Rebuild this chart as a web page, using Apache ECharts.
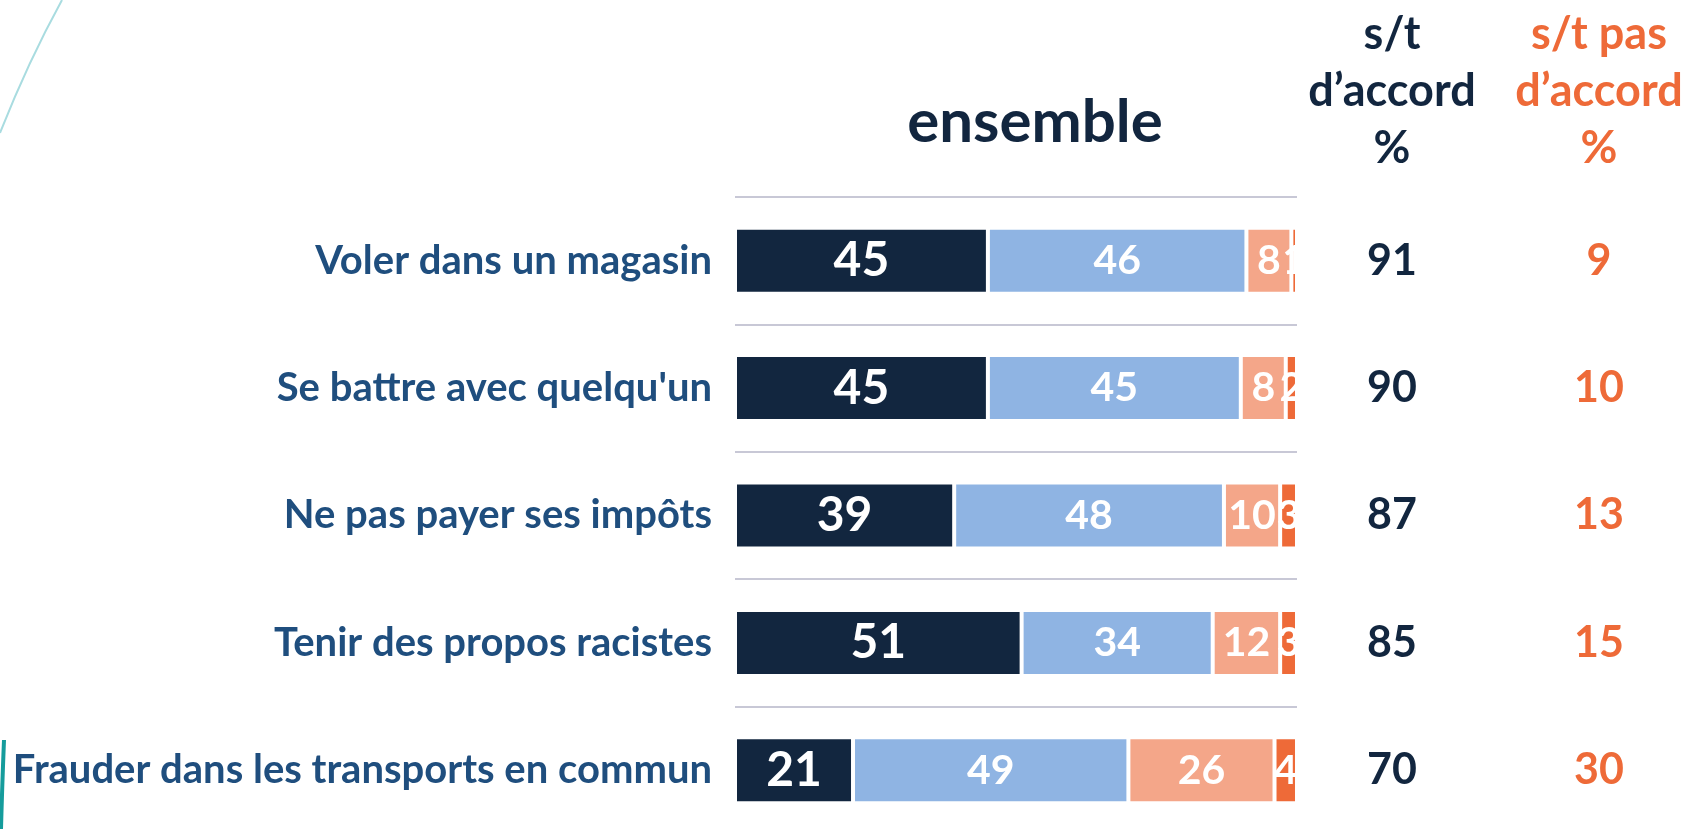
<!DOCTYPE html>
<html>
<head>
<meta charset="utf-8">
<script src="https://cdn.jsdelivr.net/npm/echarts@6/dist/echarts.min.js"></script>
<style>
  html, body { margin: 0; padding: 0; background: #fff; }
  #main { width: 1685px; height: 829px; }
</style>
</head>
<body>
<div id="main"></div>
<script>
// catégories (de haut en bas)
var categories = ['Voler dans un magasin', 'Se battre avec quelqu\'un', 'Ne pas payer ses impôts', 'Tenir des propos racistes', 'Frauder dans les transports en commun'];
// réponses en %
var tout_accord = [45, 45, 39, 51, 21];
var plutot_accord = [46, 45, 48, 34, 49];
var plutot_pas = [8, 8, 10, 12, 26];
var pas_du_tout = [1, 2, 3, 3, 4];

var navy = '#12263F';
var orange = '#EE6A38';
var font = 'Lato';

var chart = echarts.init(document.getElementById('main'));

// totaux s/t d'accord et s/t pas d'accord
var totAccord = tout_accord.map(function (v, i) { return v + plutot_accord[i]; });
var totPas = plutot_pas.map(function (v, i) { return v + pas_du_tout[i]; });

function barSerie(name, data, color, size) {
  return {
    name: name,
    type: 'bar',
    stack: 'total',
    barWidth: 66,
    data: data,
    itemStyle: { color: color, borderColor: '#fff', borderWidth: 2 },
    label: {
      show: true,
      position: 'inside',
      color: '#fff',
      fontFamily: font,
      fontWeight: 'bold',
      fontSize: size
    }
  };
}

var option = {
  animation: false,
  title: [
    {
      text: 'ensemble',
      left: 1030, top: 88, textAlign: 'center',
      textStyle: { fontFamily: font, fontWeight: 'bold', fontSize: 60, color: navy }
    },
    {
      text: 's/t\nd’accord\n%',
      left: 1392, top: 6, padding: 0, textAlign: 'center',
      textStyle: { fontFamily: font, fontWeight: 'bold', fontSize: 45, lineHeight: 57, color: navy }
    },
    {
      text: 's/t pas\nd’accord\n%',
      left: 1599, top: 6, padding: 0, textAlign: 'center',
      textStyle: { fontFamily: font, fontWeight: 'bold', fontSize: 45, lineHeight: 57, color: orange }
    }
  ],
  grid: { left: 735, right: 388, top: 197, height: 637, outerBoundsMode: 'none' },
  xAxis: { type: 'value', min: 0, max: 100, show: false },
  yAxis: [
    {
      type: 'category',
      data: categories,
      inverse: true,
      axisLine: { show: false },
      axisTick: { show: false },
      splitLine: { show: true, interval: 0, lineStyle: { color: '#C8C8D6', width: 2 } },
      axisLabel: { margin: 23, color: '#1F4E7E', fontFamily: font, fontWeight: 'bold', fontSize: 40 }
    },
    {
      type: 'category',
      data: categories,
      inverse: true,
      position: 'right',
      axisLine: { show: false },
      axisTick: { show: false },
      axisLabel: {
        margin: 0,
        formatter: function (v, i) { return '{a|' + totAccord[i] + '}{b|' + totPas[i] + '}'; },
        rich: {
          a: { width: 190, align: 'center', color: navy, fontFamily: font, fontWeight: 'bold', fontSize: 43 },
          b: { width: 224, align: 'center', color: orange, fontFamily: font, fontWeight: 'bold', fontSize: 43 }
        }
      }
    }
  ],
  series: [
    barSerie('Tout à fait d\'accord', tout_accord, navy, 48),
    barSerie('Plutôt d\'accord', plutot_accord, '#8FB4E3', 41),
    barSerie('Plutôt pas d\'accord', plutot_pas, '#F4A689', 41),
    barSerie('Pas du tout d\'accord', pas_du_tout, orange, 41)
  ],
  // décor
  graphic: [
    { type: 'bezierCurve', shape: { x1: 62, y1: 0, x2: 0, y2: 133, cpx1: 28, cpy1: 62 }, style: { stroke: '#A9DCE0', lineWidth: 2, fill: null } },
    { type: 'bezierCurve', shape: { x1: 4, y1: 740, x2: 1, y2: 829, cpx1: 2, cpy1: 790 }, style: { stroke: '#159C9C', lineWidth: 4, fill: null } }
  ]
};

chart.setOption(option);
</script>
</body>
</html>
